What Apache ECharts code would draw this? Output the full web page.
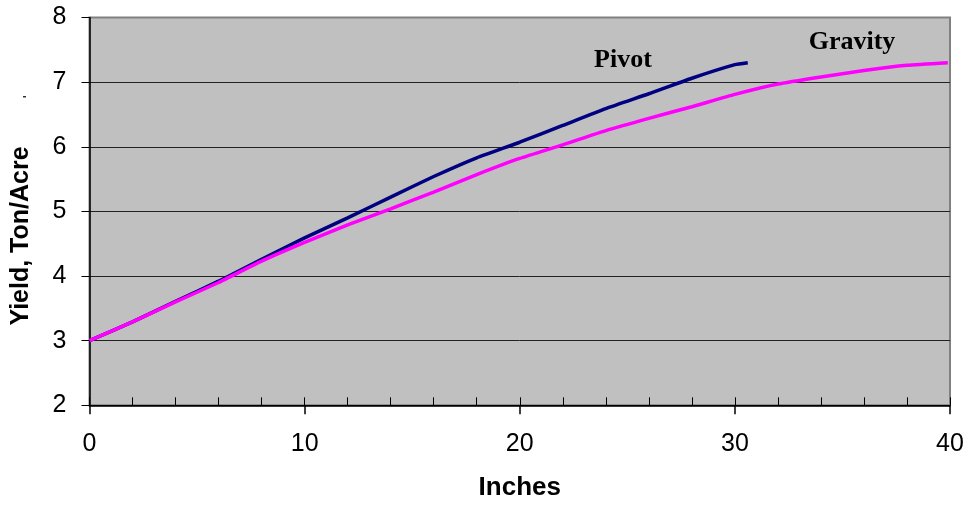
<!DOCTYPE html>
<html>
<head>
<meta charset="utf-8">
<script src="https://cdn.jsdelivr.net/npm/echarts@6/dist/echarts.min.js"></script>
<style>
  html, body { margin: 0; padding: 0; background: #fff; }
  #chart { width: 969px; height: 508px; }
</style>
</head>
<body>
<div id="chart"></div>
<script>
// Applied water (inches) vs. yield (ton/acre) for two irrigation methods
const pivotInches   = [0, 2, 4, 6, 8, 10, 12, 14, 16, 18, 20, 22, 24, 26, 28, 30, 30.6];
const pivotYield    = [3.0, 3.29, 3.61, 3.92, 4.26, 4.59, 4.90, 5.22, 5.54, 5.83, 6.07, 6.33, 6.59, 6.82, 7.06, 7.27, 7.30];
const gravityInches = [0, 2, 4, 6, 8, 10, 12, 14, 16, 18, 20, 22, 24, 26, 28, 30, 32, 34, 36, 38, 39.9];
const gravityYield  = [3.0, 3.29, 3.60, 3.90, 4.23, 4.52, 4.79, 5.04, 5.30, 5.57, 5.82, 6.03, 6.25, 6.44, 6.62, 6.81, 6.97, 7.08, 7.18, 7.26, 7.30];
const xTicks = [0, 10, 20, 30, 40];
const yTicks = [2, 3, 4, 5, 6, 7, 8];
const seriesNames = ['Pivot', 'Gravity'];

const toPairs = (xs, ys) => xs.map((x, i) => [x, ys[i]]);

const chart = echarts.init(document.getElementById('chart'), null, { renderer: 'canvas' });
const labelFont = { fontFamily: 'Liberation Sans, Arial, sans-serif', fontSize: 25, color: '#000' };

chart.setOption({
  animation: false,
  backgroundColor: '#ffffff',
  grid: {
    left: 89.5, right: 19, top: 17.5, bottom: 102.7,
    show: true, backgroundColor: '#c0c0c0', borderColor: '#808080', borderWidth: 2
  },
  xAxis: [
    {
      type: 'value', min: xTicks[0], max: xTicks[xTicks.length - 1], interval: 10,
      position: 'bottom',
      name: 'Inches', nameLocation: 'middle', nameGap: 70,
      nameTextStyle: { fontFamily: 'Liberation Sans, Arial, sans-serif', fontSize: 26, fontWeight: 'bold', color: '#000' },
      axisLine: { show: true, onZero: false, lineStyle: { color: '#000', width: 1.5 } },
      axisTick: { show: true, inside: false, length: 9, lineStyle: { color: '#000', width: 1.5 } },
      axisLabel: Object.assign({ margin: 26, formatter: v => xTicks.includes(v) ? String(v) : '' }, labelFont),
      splitLine: { show: false }
    },
    {
      type: 'value', min: 0, max: 40, interval: 2,
      position: 'bottom',
      axisLine: { show: false, onZero: false },
      axisTick: { show: true, inside: true, length: 8, lineStyle: { color: '#000', width: 1 } },
      axisLabel: { show: false },
      splitLine: { show: false }
    }
  ],
  yAxis: {
    type: 'value', min: yTicks[0], max: yTicks[yTicks.length - 1], interval: 1,
    axisLine: { show: true, onZero: false, lineStyle: { color: '#000', width: 1.5 } },
    axisTick: { show: true, inside: false, length: 8, lineStyle: { color: '#000', width: 1 } },
    axisLabel: Object.assign({ margin: 23, formatter: v => yTicks.includes(v) ? String(v) : '' }, labelFont),
    splitLine: {
      show: true,
      lineStyle: { color: ['#000', '#222', '#222', '#222', '#222', '#222', '#808080'], width: 1 }
    }
  },
  graphic: [
    {
      type: 'text', x: 21, y: 236, rotation: Math.PI / 2,
      style: {
        text: 'Yield, Ton/Acre', align: 'center', verticalAlign: 'middle',
        font: 'bold 25px "Liberation Sans", Arial, sans-serif', fill: '#000'
      }
    },
    {
      type: 'text', x: 623, y: 60,
      style: {
        text: seriesNames[0], align: 'center', verticalAlign: 'middle',
        font: 'bold 26px "Liberation Serif", "Times New Roman", serif', fill: '#000'
      }
    },
    {
      type: 'text', x: 852, y: 42,
      style: {
        text: seriesNames[1], align: 'center', verticalAlign: 'middle',
        font: 'bold 26px "Liberation Serif", "Times New Roman", serif', fill: '#000'
      }
    },
    {
      type: 'rect', shape: { x: 23, y: 96, width: 3, height: 1.5 },
      style: { fill: '#333' }
    }
  ],
  series: [
    {
      name: seriesNames[0], type: 'line', xAxisIndex: 0,
      data: toPairs(pivotInches, pivotYield),
      showSymbol: false, smooth: 0.15,
      lineStyle: { color: '#000080', width: 3.5 }, z: 3
    },
    {
      name: seriesNames[1], type: 'line', xAxisIndex: 0,
      data: toPairs(gravityInches, gravityYield),
      showSymbol: false, smooth: 0.15,
      lineStyle: { color: '#ff00ff', width: 3.5 }, z: 4
    }
  ]
});
</script>
</body>
</html>
